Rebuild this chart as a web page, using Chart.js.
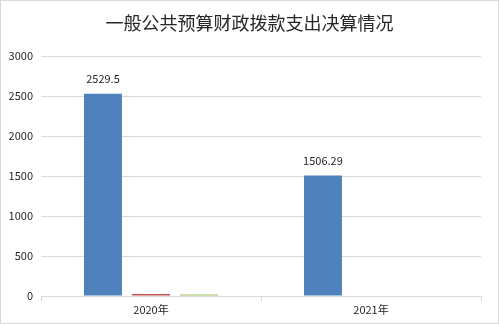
<!DOCTYPE html>
<html>
<head>
<meta charset="utf-8">
<script src="https://cdn.jsdelivr.net/npm/chart.js@4/dist/chart.umd.min.js"></script>
<style>
  html, body { margin: 0; padding: 0; background: #fff; }
  #wrap { width: 499px; height: 324px; }
</style>
</head>
<body>
<div id="wrap"><canvas id="c" width="499" height="324"></canvas></div>
<script>
const chartTitle = '一般公共预算财政拨款支出决算情况';
const categories = ['2020年', '2021年'];
const seriesNames = ['系列1', '系列2', '系列3'];
const series1 = [2529.5, 1506.29];
const series2 = [25, null];
const series3 = [20, null];
const yTicks = [0, 500, 1000, 1500, 2000, 2500, 3000];

const font = '"Noto Sans CJK SC", "Liberation Sans", sans-serif';

// white page + thin grey frame + title
const framePlugin = {
    id: 'frame',
    beforeDraw(chart) {
        const ctx = chart.ctx;
        ctx.save();
        ctx.fillStyle = '#fff';
        ctx.fillRect(0, 0, chart.width, chart.height);
        ctx.strokeStyle = '#d9d9d9';
        ctx.lineWidth = 1;
        ctx.strokeRect(0.5, 0.5, chart.width - 1, chart.height - 1);
        ctx.fillStyle = '#262626';
        ctx.font = '18px ' + font;
        ctx.textAlign = 'center';
        ctx.textBaseline = 'middle';
        ctx.fillText(chartTitle, chart.width / 2, 23);
        ctx.restore();
    }
};

// value labels above the blue bars only
const labelPlugin = {
    id: 'valueLabels',
    afterDatasetsDraw(chart) {
        const ctx = chart.ctx;
        const meta = chart.getDatasetMeta(0);
        ctx.save();
        ctx.fillStyle = '#262626';
        ctx.font = '11px ' + font;
        ctx.textAlign = 'center';
        ctx.textBaseline = 'middle';
        meta.data.forEach((bar, i) => {
            const v = series1[i];
            if (v == null) return;
            ctx.fillText(String(v), bar.x, bar.y - 15);
        });
        ctx.restore();
    }
};

new Chart(document.getElementById('c'), {
    type: 'bar',
    data: {
        labels: categories,
        datasets: [
            { label: seriesNames[0], data: series1, backgroundColor: '#4f81bd' },
            { label: seriesNames[1], data: series2, backgroundColor: '#c0504d' },
            { label: seriesNames[2], data: series3, backgroundColor: '#9bbb59' }
        ]
    },
    options: {
        responsive: false,
        animation: false,
        devicePixelRatio: 1,
        layout: { padding: { left: 0, right: 18, top: 56, bottom: 0 } },
        datasets: {
            bar: { categoryPercentage: 0.655, barPercentage: 0.79 }
        },
        plugins: {
            legend: { display: false },
            title: { display: false },
            tooltip: { enabled: false }
        },
        scales: {
            x: {
                afterFit(scale) { scale.height = 28; },
                grid: {
                    offset: true,
                    drawOnChartArea: false,
                    drawTicks: true,
                    tickLength: 5,
                    color: '#d9d9d9'
                },
                border: { display: true, color: '#d9d9d9' },
                ticks: { color: '#262626', font: { family: font, size: 11 }, padding: 2 }
            },
            y: {
                min: 0,
                max: 3000,
                afterFit(scale) { scale.width = 41; },
                afterBuildTicks(scale) { scale.ticks = yTicks.map(v => ({ value: v })); },
                grid: { color: '#d9d9d9', drawTicks: false },
                border: { display: false },
                ticks: {
                    color: '#262626',
                    font: { family: font, size: 11 },
                    padding: 8,
                    callback: v => String(v)
                }
            }
        }
    },
    plugins: [framePlugin, labelPlugin]
});
</script>
</body>
</html>
